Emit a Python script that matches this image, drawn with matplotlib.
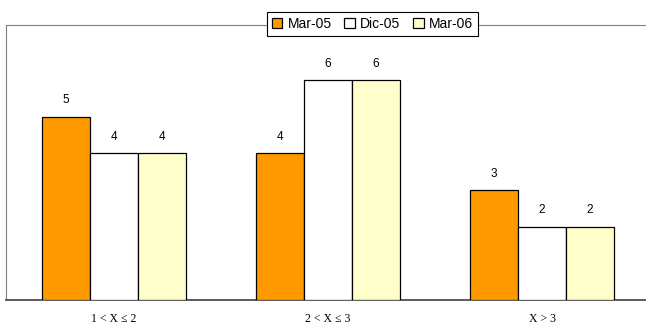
import numpy as np
import matplotlib.pyplot as plt

# counts per range, for each survey date
categories = ['1 < X \u2264 2', '2 < X \u2264 3', 'X > 3']
series_names = ['Mar-05', 'Dic-05', 'Mar-06']
mar05 = [5, 4, 3]
dic05 = [4, 6, 2]
mar06 = [4, 6, 2]
colors = ['#FF9900', '#FFFFFF', '#FFFFCC']

fig = plt.figure(figsize=(6.46, 3.25), dpi=100)
ax = fig.add_axes([6 / 646, 25 / 325, 640 / 646, 275 / 325])

x = np.arange(len(categories))
w = 0.224
for i, (vals, name, col) in enumerate(zip([mar05, dic05, mar06], series_names, colors)):
    bars = ax.bar(x + (i - 1) * w, vals, w, color=col, edgecolor='black',
                  linewidth=0.9, label=name, zorder=3)
    for b, v in zip(bars, vals):
        ax.annotate(str(v), (b.get_x() + b.get_width() / 2, v), xytext=(0, 7.5),
                    textcoords='offset points', ha='center', va='bottom',
                    fontsize=8.5, family='Liberation Sans')

ax.set_xlim(-0.504, 2.485)
ax.set_ylim(0, 7.5)
ax.set_yticks([])
ax.set_xticks(x)
ax.set_xticklabels(categories, family='Liberation Serif', fontsize=8.5)
ax.tick_params(axis='x', length=0, pad=9)

ax.spines['right'].set_visible(False)
ax.spines['left'].set_color('#808080')
ax.spines['top'].set_color('#808080')
ax.spines['bottom'].set_color('#404040')
ax.spines['bottom'].set_linewidth(1.2)

leg = fig.legend(loc='center', bbox_to_anchor=(372.5 / 646, 1 - 24 / 325), ncol=3,
                 frameon=True, fancybox=False, edgecolor='black', framealpha=1,
                 handlelength=0.75, handleheight=0.75, handletextpad=0.4,
                 columnspacing=0.9, borderpad=0.35,
                 prop={'family': 'Liberation Sans', 'size': 10})
leg.get_frame().set_linewidth(0.8)

fig.savefig('out.png', dpi=100)
